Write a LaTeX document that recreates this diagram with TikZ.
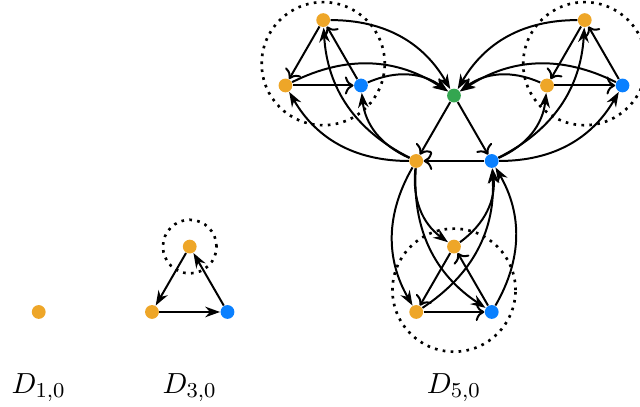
\documentclass[tikz,border=0pt]{standalone}
\usepackage{amsmath}
\usepackage{tikz}
\usetikzlibrary{arrows.meta}

\definecolor{vorange}{RGB}{238,166,40}
\definecolor{vblue}{RGB}{10,128,255}
\definecolor{vgreen}{RGB}{52,166,80}

\begin{document}
\begin{tikzpicture}[
  vtx/.style={circle, inner sep=0pt, minimum size=5.2pt},
  ov/.style={vtx, fill=vorange},
  bv/.style={vtx, fill=vblue},
  gv/.style={vtx, fill=vgreen},
  arrow/.style={-{Stealth[length=5.6pt, width=4pt]}, line width=0.75pt},
  tri/.style={->, line width=0.75pt},
  ring/.style={dotted, line width=1pt},
  title/.style={font=\fontsize{10.8}{13}\selectfont}
]

\useasboundingbox (-2.013,-1.258) rectangle (6.464,4.132);

%% D_{1,0}
\node[ov] (d1) at (-1.5,0) {};
\node[title] (d1-lbl) at (-1.5,-1.0) {$D_{1,0}$};

%% D_{3,0}
\node[ov] (d3-t) at (0.5,0.866) {};
\node[ov] (d3-l) at (0,0) {};
\node[bv] (d3-r) at (1,0) {};

\draw[arrow] (d3-t) -- (d3-l);
\draw[arrow] (d3-l) -- (d3-r);
\draw[arrow] (d3-r) -- (d3-t);
\draw[ring] (d3-t) circle (0.355);

\node[title] (d3-lbl) at (0.5,-1.0) {$D_{3,0}$};

%% D_{5,0}: centre triangle
\node[gv] (c-g) at (4,2.866) {};
\node[ov] (c-o) at (3.5,2) {};
\node[bv] (c-b) at (4.5,2) {};

\draw[tri] (c-g) -- (c-o);
\draw[tri] (c-g) -- (c-b);
\draw[tri] (c-b) -- (c-o);

%% top left copy
\node[ov] (tl-t) at (2.2679,3.866) {};
\node[ov] (tl-l) at (1.7679,3) {};
\node[bv] (tl-r) at (2.7679,3) {};

\draw[tri] (tl-t) -- (tl-l);
\draw[tri] (tl-l) -- (tl-r);
\draw[tri] (tl-r) -- (tl-t);
\draw[ring] (2.2679,3.2887) circle (0.815);

\draw[arrow] (tl-t) to[bend left=30] (c-g);
\draw[arrow] (tl-l) to[bend left=30] (c-g);
\draw[arrow] (tl-r) to[bend left=30] (c-g);
\draw[arrow] (c-o) to[bend left=30] (tl-t);
\draw[arrow] (c-o) to[bend left=30] (tl-l);
\draw[arrow] (c-o) to[bend left=30] (tl-r);

%% top right copy
\node[ov] (tr-t) at (5.7321,3.866) {};
\node[ov] (tr-l) at (5.2321,3) {};
\node[bv] (tr-r) at (6.2321,3) {};

\draw[tri] (tr-t) -- (tr-l);
\draw[tri] (tr-l) -- (tr-r);
\draw[tri] (tr-r) -- (tr-t);
\draw[ring] (5.7321,3.2887) circle (0.815);

\draw[arrow] (tr-t) to[bend right=30] (c-g);
\draw[arrow] (tr-l) to[bend right=30] (c-g);
\draw[arrow] (tr-r) to[bend right=30] (c-g);
\draw[arrow] (c-b) to[bend right=30] (tr-t);
\draw[arrow] (c-b) to[bend right=30] (tr-l);
\draw[arrow] (c-b) to[bend right=30] (tr-r);

%% bottom copy
\node[ov] (bt-t) at (4,0.866) {};
\node[ov] (bt-l) at (3.5,0) {};
\node[bv] (bt-r) at (4.5,0) {};

\draw[tri] (bt-t) -- (bt-l);
\draw[tri] (bt-l) -- (bt-r);
\draw[tri] (bt-r) -- (bt-t);
\draw[ring] (4,0.2887) circle (0.815);

\draw[arrow] (c-o) to[bend right=30] (bt-t);
\draw[arrow] (c-o) to[bend right=30] (bt-l);
\draw[arrow] (c-o) to[bend right=30] (bt-r);
\draw[arrow] (bt-t) to[bend right=30] (c-b);
\draw[arrow] (bt-l) to[bend right=30] (c-b);
\draw[arrow] (bt-r) to[bend right=30] (c-b);

\node[title] (d5-lbl) at (4,-1.0) {$D_{5,0}$};

\end{tikzpicture}
\end{document}
